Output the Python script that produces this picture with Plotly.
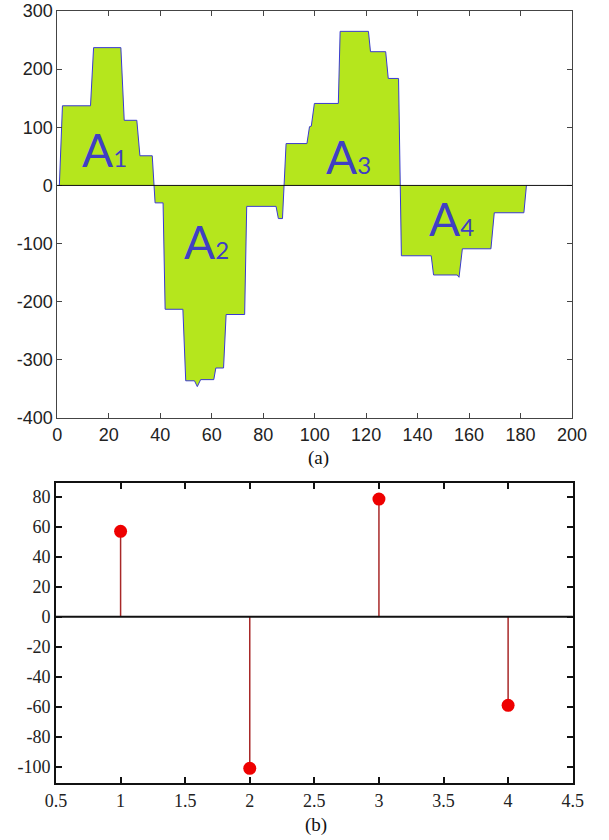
import plotly.graph_objects as go

# ---- data: panel (a) step signal ----
sig_x = [0.8, 2, 12.9, 14.1, 24.7, 26, 30.9, 32.1, 36.9, 38, 41.1, 41.9, 48.8, 49.9,
         53.3, 54.4, 55.7, 60.8, 61.6, 64.6, 65.6, 72.8, 73.6, 85, 85.9, 87.5, 88.9,
         97, 98, 98.7, 99.9, 109.2, 109.9, 120.9, 121.7, 127.6, 128.6, 132.6, 133.7,
         145.3, 146.2, 155.4, 156.1, 157.4, 168.5, 169.8, 181.3, 182.3]
sig_y = [0, 137, 137, 237, 237, 112, 112, 51, 51, -30, -30, -213, -213, -336,
         -336, -346, -334, -334, -314, -314, -222, -222, -36, -36, -57, -57, 72,
         72, 101, 102, 141, 141, 265, 265, 230, 230, 184, 184, -121,
         -121, -154, -154, -158, -109, -109, -47, -47, 0]

area_names = ["1", "2", "3", "4"]
area_x = [18.2, 57.9, 113.2, 153.3]
area_y = [61, -96, 50, -57]

# ---- data: panel (b) stems ----
stem_x = [1, 2, 3, 4]
stem_y = [57, -101, 78.5, -59]

xa_ticks = list(range(0, 201, 20))
ya_ticks = list(range(-400, 301, 100))
ya_text = [str(v) if v >= 0 else "-" + str(-v) for v in ya_ticks]
xb_ticks = [0.5, 1, 1.5, 2, 2.5, 3, 3.5, 4, 4.5]
xb_text = ["0.5", "1", "1.5", "2", "2.5", "3", "3.5", "4", "4.5"]
yb_ticks = list(range(-100, 81, 20))
yb_text = [str(v) if v >= 0 else "-" + str(-v) for v in yb_ticks]

W, H = 609, 840
fig = go.Figure()

fig.add_trace(go.Scatter(
    x=sig_x, y=sig_y, mode="lines", fill="tozeroy",
    fillcolor="#b5e61d", line=dict(color="#3a3ad0", width=1),
    xaxis="x", yaxis="y", showlegend=False, hoverinfo="skip"))

# stems
sx, sy = [], []
for xv, yv in zip(stem_x, stem_y):
    sx += [xv, xv, None]
    sy += [0, yv, None]
fig.add_trace(go.Scatter(
    x=sx, y=sy, mode="lines", line=dict(color="#a82828", width=1.5),
    xaxis="x2", yaxis="y2", showlegend=False, hoverinfo="skip"))
fig.add_trace(go.Scatter(
    x=stem_x, y=stem_y, mode="markers",
    marker=dict(color="#ee0000", size=13, line=dict(width=0)),
    xaxis="x2", yaxis="y2", showlegend=False, hoverinfo="skip"))

# zero lines (reference lines)
fig.add_shape(type="line", xref="x domain", yref="y", x0=0, x1=1, y0=0, y1=0,
              line=dict(color="#111", width=1), layer="above")
fig.add_shape(type="line", xref="x2 domain", yref="y2", x0=0, x1=1, y0=0, y1=0,
              line=dict(color="#111", width=2), layer="above")

for nm, ax_, ay_ in zip(area_names, area_x, area_y):
    fig.add_annotation(
        x=ax_, y=ay_, xref="x", yref="y", showarrow=False,
        text="A<span style='font-size:24px'>" + nm + "</span>",
        font=dict(family="Lato", size=46, color="#3f3fc4"),
        xanchor="center", yanchor="middle")

fig.add_annotation(x=318 / W, y=1 - 458 / H, xref="paper", yref="paper",
                   text="(a)", showarrow=False, xanchor="center", yanchor="middle",
                   font=dict(family="Liberation Serif", size=19, color="#111"))
fig.add_annotation(x=316 / W, y=1 - 825 / H, xref="paper", yref="paper",
                   text="(b)", showarrow=False, xanchor="center", yanchor="middle",
                   font=dict(family="Liberation Serif", size=19, color="#111"))

sans = dict(family="Liberation Sans", size=18, color="#222")
serif = dict(family="Liberation Serif", size=18, color="#222")

fig.update_layout(
    width=W, height=H, margin=dict(l=0, r=0, t=0, b=0),
    paper_bgcolor="white", plot_bgcolor="white",
    xaxis=dict(domain=[57.3 / W, 572 / W], range=[0, 200], tickvals=xa_ticks,
               ticks="inside", ticklen=5, tickcolor="#444", showline=True,
               linecolor="#444", linewidth=1, mirror="ticks", showgrid=False,
               zeroline=False, tickfont=sans, anchor="y", automargin=False),
    yaxis=dict(domain=[1 - 418 / H, 1 - 11 / H], range=[-400, 300],
               tickvals=ya_ticks, ticktext=ya_text,
               ticks="inside", ticklen=5, tickcolor="#444", showline=True,
               linecolor="#444", linewidth=1, mirror="ticks", showgrid=False,
               zeroline=False, tickfont=sans, anchor="x", automargin=False),
    xaxis2=dict(domain=[56 / W, 572.7 / W], range=[0.5, 4.5], tickvals=xb_ticks,
                ticktext=xb_text,
                ticks="inside", ticklen=6, tickcolor="#111", tickwidth=1.5,
                showline=True, linecolor="#111", linewidth=2, mirror="ticks",
                showgrid=False, zeroline=False, tickfont=serif, anchor="y2",
                automargin=False),
    yaxis2=dict(domain=[1 - 783.3 / H, 1 - 483.3 / H], range=[-111, 89],
                tickvals=yb_ticks, ticktext=yb_text,
                ticks="inside", ticklen=6, tickcolor="#111", tickwidth=1.5,
                showline=True, linecolor="#111", linewidth=2, mirror="ticks",
                showgrid=False, zeroline=False, tickfont=serif, anchor="x2",
                automargin=False),
)

fig.write_html("out.html", config={"displayModeBar": False},
               post_script="document.body.style.margin='0';document.body.style.overflow='hidden';")
